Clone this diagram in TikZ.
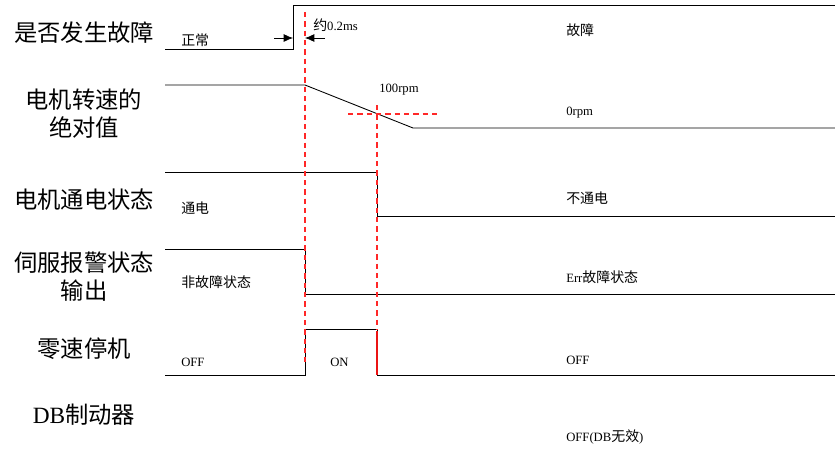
\documentclass[tikz,border=0pt]{standalone}
\usepackage{fontspec}
\setmainfont{Liberation Serif}
\newfontfamily\cjk{Noto Sans CJK SC}[Scale=1.1]
\newfontfamily\cjkbig{Noto Sans CJK SC}
\usetikzlibrary{arrows.meta}
\begin{document}
\begin{tikzpicture}[x=0.75pt,y=-0.75pt,
  sig/.style={draw=black,line width=0.65pt},
  redmark/.style={draw={rgb,255:red,255;green,40;blue,40},line width=1.2pt,dash pattern=on 4pt off 3pt},
  lab/.style={font=\fontsize{17.5}{21}\selectfont,align=center,inner sep=0pt},
  txt/.style={font=\fontsize{9.5}{11}\selectfont,inner sep=0pt}]
\useasboundingbox (0,0) rectangle (835,450);
% left labels
\node[lab] (l1) at (84,33) {\cjkbig 是否发生故障};
\node[lab] (l2) at (84,114) {\cjkbig 电机转速的\\\cjkbig 绝对值};
\node[lab] (l3) at (84,200) {\cjkbig 电机通电状态};
\node[lab] (l4) at (84,277) {\cjkbig 伺服报警状态\\\cjkbig 输出};
\node[lab] (l5) at (84,349) {\cjkbig 零速停机};
\node[lab] (l6) at (84,415) {DB{\cjkbig 制动器}};
% signals
\draw[sig] (165,49) -- (293,49) -- (293,5) -- (835,5);
\draw[sig] (165,85) -- (305,85) -- (413,128) -- (835,128);
\draw[sig] (165,172) -- (377,172) -- (377,216) -- (835,216);
\draw[sig] (165,249) -- (305,249) -- (305,294) -- (835,294);
\draw[sig] (165,375) -- (305,375) -- (305,329) -- (377,329) -- (377,375) -- (835,375);
% marker lines
\draw[redmark] (305,12) -- (305,362);
\draw[redmark] (377,105) -- (377,330);
\draw[redmark] (348,114) -- (438,114);
\draw[draw={rgb,255:red,235;green,20;blue,20},line width=1pt] (377,331) -- (377,375);
% arrows
\coordinate (a1) at (274,38);
\coordinate (a2) at (293,38);
\coordinate (b1) at (325,38);
\coordinate (b2) at (305,38);
\draw[-{Latex[length=7pt,width=6pt]},line width=0.6pt] (a1) -- (a2);
\draw[-{Latex[length=7pt,width=6pt]},line width=0.6pt] (b1) -- (b2);
% texts
\node[txt,anchor=west] (t1) at (181,40) {\cjk 正常};
\node[txt,anchor=west] (t2) at (313,25) {{\cjk 约}0.2ms};
\node[txt,anchor=west] (t3) at (566,30) {\cjk 故障};
\node[txt,anchor=west] (t4) at (379,90) {100rpm};
\node[txt,anchor=west] (t5) at (566,113) {0rpm};
\node[txt,anchor=west] (t6) at (181,208) {\cjk 通电};
\node[txt,anchor=west] (t7) at (566,198) {\cjk 不通电};
\node[txt,anchor=west] (t8) at (181,282) {\cjk 非故障状态};
\node[txt,anchor=west] (t9) at (566,277) {Err{\cjk 故障状态}};
\node[txt,anchor=west] (t10) at (181,362) {OFF};
\node[txt,anchor=west] (t11) at (330,362) {ON};
\node[txt,anchor=west] (t12) at (566,360) {OFF};
\node[txt,anchor=west] (t13) at (566,437) {OFF(DB{\cjk 无效})};
\end{tikzpicture}
\end{document}
